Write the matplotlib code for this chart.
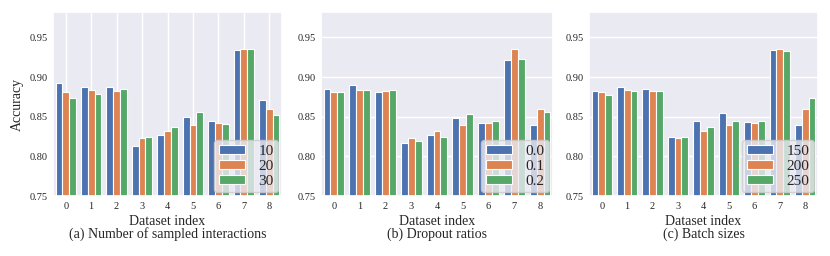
import matplotlib
matplotlib.use('Agg')
import matplotlib.pyplot as plt
import seaborn as sns
import numpy as np

# Data
datasets = list(range(9))

sampled_labels = ['10', '20', '30']
sampled = [
    [0.892, 0.888, 0.887, 0.813, 0.827, 0.850, 0.845, 0.934, 0.871],
    [0.881, 0.884, 0.883, 0.823, 0.832, 0.839, 0.842, 0.935, 0.860],
    [0.874, 0.879, 0.885, 0.824, 0.837, 0.856, 0.841, 0.935, 0.852],
]

dropout_labels = ['0.0', '0.1', '0.2']
dropout = [
    [0.885, 0.890, 0.881, 0.817, 0.827, 0.848, 0.842, 0.922, 0.840],
    [0.881, 0.884, 0.883, 0.823, 0.832, 0.839, 0.842, 0.935, 0.860],
    [0.881, 0.884, 0.884, 0.819, 0.824, 0.854, 0.845, 0.923, 0.856],
]

batch_labels = ['150', '200', '250']
batch = [
    [0.883, 0.887, 0.885, 0.824, 0.844, 0.855, 0.843, 0.934, 0.839],
    [0.881, 0.884, 0.883, 0.823, 0.832, 0.839, 0.842, 0.935, 0.860],
    [0.877, 0.883, 0.883, 0.824, 0.837, 0.845, 0.845, 0.933, 0.873],
]

captions = ['(a) Number of sampled interactions', '(b) Dropout ratios', '(c) Batch sizes']

sns.set_theme(style='darkgrid')
plt.rcParams['font.family'] = ['Liberation Serif', 'DejaVu Serif']
colors = sns.color_palette('deep')

fig = plt.figure(figsize=(8.3, 2.56), dpi=100)
rects = [
    [53 / 830, 60 / 256, 229 / 830, 184 / 256],
    [321 / 830, 60 / 256, 232 / 830, 184 / 256],
    [589 / 830, 60 / 256, 229 / 830, 184 / 256],
]
panels = [(sampled, sampled_labels), (dropout, dropout_labels), (batch, batch_labels)]

x = np.arange(len(datasets))
w = 0.8 / 3
for i, (rect, (series, labels)) in enumerate(zip(rects, panels)):
    ax = fig.add_axes(rect)
    for j, (vals, lab) in enumerate(zip(series, labels)):
        ax.bar(x + (j - 1) * w, np.array(vals) - 0.75, w, bottom=0.75,
               color=colors[j], edgecolor='white', linewidth=0.8, label=lab)
    ax.set_xlim(-0.5, 8.5)
    ax.set_ylim(0.75, 0.982)
    ax.set_xticks(x)
    ax.set_xticklabels([str(d) for d in datasets], fontsize=7.5)
    ax.set_yticks([0.75, 0.80, 0.85, 0.90, 0.95])
    ax.set_yticklabels(['0.75', '0.80', '0.85', '0.90', '0.95'], fontsize=7.5)
    ax.tick_params(axis='both', length=0, pad=4)
    ax.grid(False)
    if i == 0:
        ax.grid(True, axis='x', color='white', linewidth=1)
        ax.set_ylabel('Accuracy', fontsize=10, labelpad=4)
    else:
        ax.grid(True, axis='y', color='white', linewidth=1)
    ax.set_axisbelow(True)
    ax.set_xlabel('Dataset index\n' + captions[i], fontsize=10, linespacing=0.95, labelpad=3)
    ax.legend(loc='lower right', fontsize=11, labelspacing=0.12, handlelength=1.7,
              handleheight=0.55, borderpad=0.3, borderaxespad=0.25, framealpha=0.8,
              handletextpad=0.9)

fig.savefig('out.png', dpi=100)
